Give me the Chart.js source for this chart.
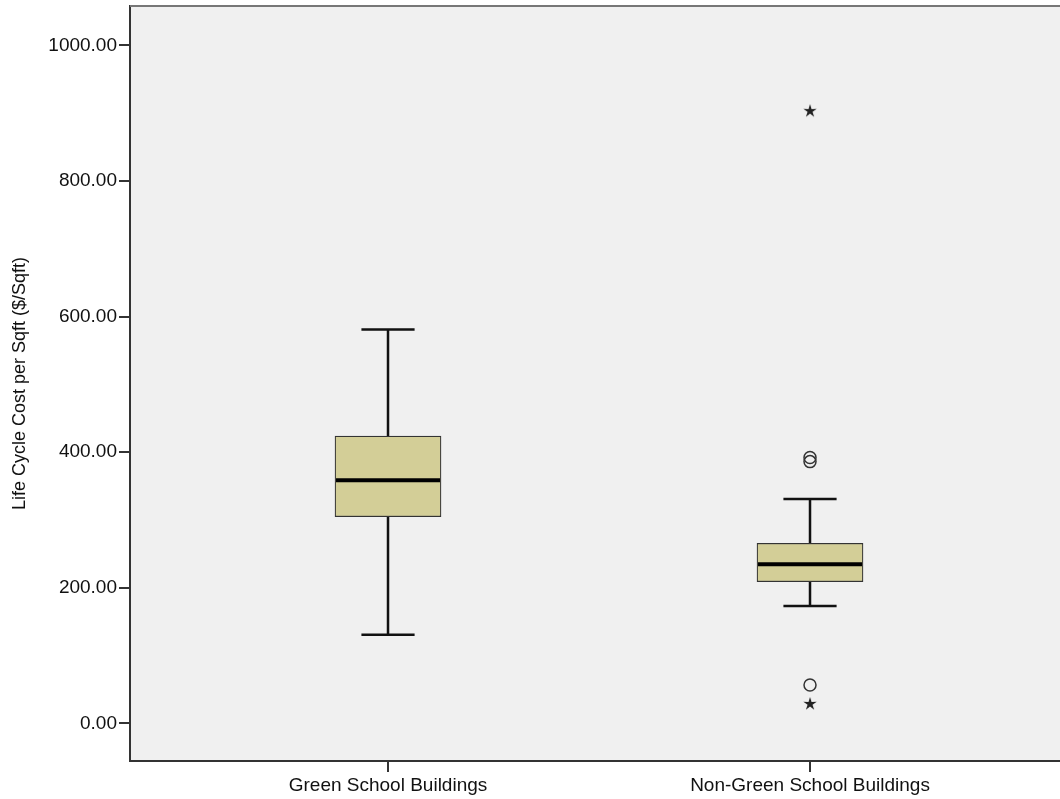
<!DOCTYPE html>
<html>
<head>
<meta charset="utf-8">
<script src="https://cdn.jsdelivr.net/npm/chart.js@4"></script>
<style>
  html, body { margin: 0; padding: 0; background: #ffffff; overflow: hidden; }
  #wrap { width: 1060px; height: 799px; }
  canvas { display: block; }
</style>
</head>
<body>
<div id="wrap"><canvas id="boxChart"></canvas></div>
<script>
// box plot values
const categories = ['Green School Buildings', 'Non-Green School Buildings'];
const whiskerLow = [130.7, 173.0];
const q1 = [304.7, 208.8];
const median = [358.4, 234.5];
const q3 = [423.7, 265.5];
const whiskerHigh = [581.0, 330.8];

// outliers (both groups belong to the second category)
const circleValues = [392, 386, 56.5];
const circleGroup = [2, 2, 2];
const starValues = [903, 28.5];
const starGroup = [2, 2];

const yTicks = [0, 200, 400, 600, 800, 1000];
const yTitle = 'Life Cycle Cost per Sqft ($/Sqft)';

const FONT = "'Liberation Sans', Arial, sans-serif";
const BOX_FILL = '#d3ce97';
const INK = '#222222';

function makeStar() {
    const c = document.createElement('canvas');
    c.width = 16; c.height = 16;
    const g = c.getContext('2d');
    g.fillStyle = INK;
    g.beginPath();
    for (let i = 0; i < 10; i++) {
        const r = i % 2 === 0 ? 7 : 2.6;
        const a = -Math.PI / 2 + i * Math.PI / 5;
        const px = 8 + r * Math.cos(a), py = 8 + r * Math.sin(a);
        if (i === 0) g.moveTo(px, py); else g.lineTo(px, py);
    }
    g.closePath();
    g.fill();
    return c;
}

const boxPlugin = {
    id: 'boxPlugin',
    beforeDraw(chart) {
        const { ctx, chartArea: a } = chart;
        ctx.save();
        ctx.fillStyle = '#f0f0f0';
        ctx.fillRect(a.left, a.top, a.right - a.left, a.bottom - a.top);
        ctx.restore();
    },
    beforeDatasetsDraw(chart) {
        const { ctx, scales: { x, y } } = chart;
        ctx.save();
        ctx.strokeStyle = '#111';
        ctx.lineWidth = 2.5;
        categories.forEach((c, i) => {
            const cx = x.getPixelForValue(i + 1);
            const half = (x.getPixelForValue(i + 1.063) - cx);
            ctx.beginPath();
            ctx.moveTo(cx, y.getPixelForValue(whiskerLow[i]));
            ctx.lineTo(cx, y.getPixelForValue(q1[i]));
            ctx.moveTo(cx, y.getPixelForValue(q3[i]));
            ctx.lineTo(cx, y.getPixelForValue(whiskerHigh[i]));
            [whiskerLow[i], whiskerHigh[i]].forEach(v => {
                const py = y.getPixelForValue(v);
                ctx.moveTo(cx - half, py);
                ctx.lineTo(cx + half, py);
            });
            ctx.stroke();
        });
        ctx.restore();
    },
    afterDatasetsDraw(chart) {
        const { ctx, scales: { y } } = chart;
        const bars = chart.getDatasetMeta(0).data;
        ctx.save();
        ctx.strokeStyle = '#000';
        ctx.lineWidth = 4;
        categories.forEach((c, i) => {
            const b = bars[i];
            const py = y.getPixelForValue(median[i]);
            ctx.beginPath();
            ctx.moveTo(b.x - b.width / 2 + 1, py);
            ctx.lineTo(b.x + b.width / 2 - 1, py);
            ctx.stroke();
        });
        ctx.restore();
    },
    afterDraw(chart) {
        const { ctx, chartArea: a } = chart;
        ctx.save();
        ctx.strokeStyle = '#777';
        ctx.lineWidth = 2;
        ctx.beginPath();
        ctx.moveTo(a.left, a.top);
        ctx.lineTo(a.right, a.top);
        ctx.stroke();
        ctx.restore();
    }
};

document.addEventListener('DOMContentLoaded', function () {
    const star = makeStar();

    new Chart(document.getElementById('boxChart').getContext('2d'), {
        type: 'bar',
        data: {
            datasets: [{
                type: 'bar',
                data: categories.map((c, i) => ({ x: i + 1, y: [q1[i], q3[i]] })),
                backgroundColor: BOX_FILL,
                borderColor: '#333',
                borderWidth: 1.2,
                borderSkipped: false,
                barThickness: 106
            }, {
                type: 'scatter',
                data: circleValues.map((v, i) => ({ x: circleGroup[i], y: v })),
                pointStyle: 'circle',
                radius: 6,
                borderWidth: 1.5,
                borderColor: '#333',
                backgroundColor: 'rgba(0,0,0,0)'
            }, {
                type: 'scatter',
                data: starValues.map((v, i) => ({ x: starGroup[i], y: v })),
                pointStyle: star
            }]
        },
        options: {
            responsive: true,
            maintainAspectRatio: false,
            animation: false,
            layout: { autoPadding: false, padding: { top: 6, right: 0, left: 0, bottom: 0 } },
            plugins: {
                legend: { display: false },
                tooltip: { enabled: false }
            },
            scales: {
                x: {
                    type: 'linear',
                    offset: false,
                    min: 0.3886,
                    max: 2.5924,
                    afterBuildTicks: s => { s.ticks = categories.map((c, i) => ({ value: i + 1 })); },
                    afterFit: s => { s.height = 38; s.paddingLeft = 0; s.paddingRight = 0; },
                    ticks: {
                        callback: v => categories[v - 1],
                        color: '#111',
                        font: { family: FONT, size: 19 },
                        padding: 2,
                        maxRotation: 0,
                        autoSkip: false
                    },
                    grid: { offset: false, drawOnChartArea: false, drawTicks: true, tickLength: 11, color: '#333', lineWidth: 2 },
                    border: { color: '#333', width: 2 }
                },
                y: {
                    min: -55.6,
                    max: 1058,
                    afterBuildTicks: s => { s.ticks = yTicks.map(v => ({ value: v })); },
                    afterFit: s => { s.width = 130; s.paddingTop = 0; s.paddingBottom = 0; },
                    ticks: {
                        callback: v => v.toFixed(2),
                        color: '#111',
                        font: { family: FONT, size: 19 },
                        padding: 2
                    },
                    title: {
                        display: true,
                        text: yTitle,
                        color: '#111',
                        font: { family: FONT, size: 18 },
                        padding: { top: 9, bottom: 0 }
                    },
                    grid: { drawOnChartArea: false, drawTicks: true, tickLength: 11, color: '#333', lineWidth: 2 },
                    border: { color: '#333', width: 2 }
                }
            }
        },
        plugins: [boxPlugin]
    });
});
</script>
</body>
</html>
